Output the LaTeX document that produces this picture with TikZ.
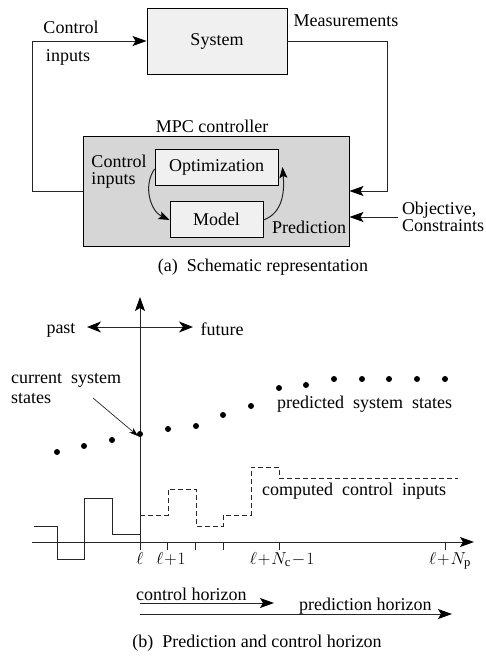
\documentclass[tikz,border=0pt]{standalone}
\usepackage{fontspec}
\setmainfont{Liberation Serif}
\usetikzlibrary{arrows.meta,calc}
\begin{document}
\begin{tikzpicture}[x=1pt,y=-1pt,
  every node/.style={font=\fontsize{18}{17}\selectfont},
  blk/.style={draw=black,line width=0.9pt,inner sep=0pt},
  wire/.style={draw=black!85,line width=1pt},
  tip/.style={},
  arr/.style={wire,-{Stealth[length=14pt,width=10pt,inset=3pt,black]}},
  darr/.style={wire,{Stealth[length=14pt,width=11pt,inset=4pt,black]}-{Stealth[length=14pt,width=11pt,inset=4pt,black]}},
  tick/.style={draw=black!85,line width=1pt},
  lbl/.style={inner sep=0pt},
  dot/.style={circle,fill=black,inner sep=0pt,minimum size=6pt}]
\useasboundingbox (0,0) rectangle (486,659);
% ---------------- (a) ----------------
\node[blk,fill=black!6,minimum width=140pt,minimum height=66pt] (sys) at (217,41) {System};
\node[blk,fill=black!16,minimum width=266pt,minimum height=110pt] (mpc) at (216,191) {};
\node[blk,fill=black!6,minimum width=123pt,minimum height=36pt] (opt) at (216.5,167) {Optimization};
\node[blk,fill=black!6,minimum width=93pt,minimum height=36pt] (mod) at (216.5,219) {Model};
\node[lbl] (mpct) at (212,126) {MPC controller};
\node[lbl] (cti) at (71,27) {Control};
\node[lbl] (ctin) at (68,57) {inputs};
\node[lbl] (meas) at (346,21) {Measurements};
\node[lbl,align=left] (obj) at (443,217) {Objective,\\Constraints};
\node[lbl,align=left] (cin) at (119,172) {Control\\inputs};
\node[lbl] (pred) at (309,227) {Prediction};
\coordinate (cl) at (32,41);
\coordinate (cr) at (387,41);
\draw[arr] (mpc.west) -| (cl) -- (sys.west);
\draw[arr] (sys.east) -- (cr) |- (mpc.east);
\draw[arr] ([xshift=-4pt]obj.west) -- (obj.west -| mpc.east);
\draw[wire,-{Stealth[length=11pt,width=8pt,inset=2pt,black]}] ([yshift=-2pt]opt.west) to[out=235,in=155] ([yshift=-1pt]mod.west);
\draw[wire,-{Stealth[length=11pt,width=8pt,inset=2pt,black]}] ([yshift=-1pt]mod.east) to[out=20,in=-85] ([xshift=4pt]opt.east);
\node[lbl] (capa) at (263,267) {(a)\ \ Schematic representation};
% ---------------- (b) ----------------
\coordinate (vtop) at (140,297);
\coordinate (vbot) at (140,550);
\coordinate (hl) at (32,542);
\coordinate (hr) at (474,542);
\draw[arr] (vbot) -- (vtop);
\draw[arr] (hl) -- (hr);
\foreach \x in {167.8,195.6,223.4,279,445.8}{
  \draw[tick] (\x,542) -- (\x,550);
}
\node[lbl,anchor=base] (t0) at (140,564) {$\ell$};
\node[lbl,anchor=base] (t1) at (171,564) {$\ell\!+\!1$};
\node[lbl,anchor=base] (tc) at (282,564) {$\ell\!+\!N_{\mathrm{c}}\!-\!1$};
\node[lbl,anchor=base] (tp) at (450,564) {$\ell\!+\!N_{\mathrm{p}}$};
% past / future
\node[lbl] (past) at (61,330) {past};
\node[lbl] (fut) at (222,329) {future};
\coordinate (pa) at (87,327);
\coordinate (fu) at (193,327);
\draw[darr] (pa) -- (fu);
% states
\foreach \n/\x/\y in {a/57/452,b/84/446,c/112/440,d/140/434,e/168/429,f/196/426,g/223/415,h/251/406,i/279/388,j/306/385,k/334/379,l/362/379,m/389/379,n/417/379,o/445/379}{
  \node[dot] (s\n) at (\x,\y) {};
}
\node[lbl,align=left,anchor=north west] (cur) at (11,373) {current\ \ system\\[3pt]states};
\coordinate (cura) at (93,398);
\draw[wire,line width=0.7pt,-{Stealth[length=9pt,width=6pt,black]}] (cura) -- ([shift={(-2pt,-2pt)}]sd.center);
\node[lbl,anchor=base west] (pst) at (277,408) {predicted\ \ system\ \ states};
% past inputs
\draw[wire] (34,526) -- (57,526) -- (57,559) -- (84,559) -- (84,498) -- (112,498) -- (112,534) -- (140,534);
% computed inputs
\draw[wire,dashed,dash pattern=on 5pt off 3pt] (140,515) -- (168,515) -- (168,489) -- (196,489) -- (196,526) -- (223,526) -- (223,515) -- (251,515) -- (251,467) -- (279,467) -- (279,478) -- (458,478);
\node[lbl,anchor=base west] (cci) at (262,495) {computed\ \ control\ \ inputs};
% horizons
\coordinate (ch0) at (140,603);
\coordinate (ch1) at (274,603);
\coordinate (ph0) at (140,614);
\coordinate (ph1) at (452,614);
\draw[arr] (ch0) -- (ch1);
\draw[arr] (ph0) -- (ph1);
\node[lbl,anchor=base west] (cht) at (136,600) {control horizon};
\node[lbl,anchor=base west] (pht) at (299,610) {prediction horizon};
\node[lbl] (capb) at (257,643) {(b)\ \ Prediction and control horizon};
\end{tikzpicture}
\end{document}
